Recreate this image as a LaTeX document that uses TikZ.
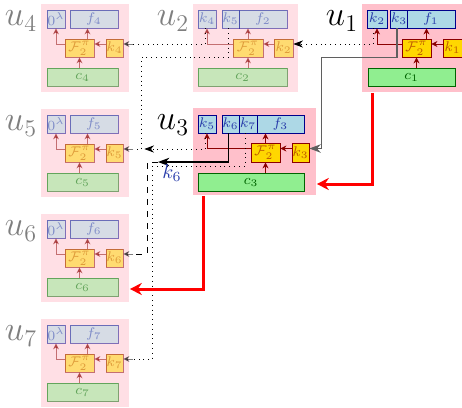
\documentclass[tikz,border=0pt]{standalone}
\usepackage{amsmath}
\usepackage{amssymb}
\usetikzlibrary{arrows.meta}

\definecolor{rosa}{RGB}{255,192,203}
\definecolor{azulclaro}{RGB}{173,216,230}
\definecolor{azuloscuro}{RGB}{0,0,139}
\definecolor{azultexto}{RGB}{40,60,170}
\definecolor{oro}{RGB}{255,215,0}
\definecolor{rojooscuro}{RGB}{139,0,0}
\definecolor{naranja}{RGB}{190,90,0}
\definecolor{verdeclaro}{RGB}{144,238,144}
\definecolor{verdeoscuro}{RGB}{0,100,0}
\definecolor{grisoscuro}{RGB}{95,95,95}

\begin{document}
\begin{tikzpicture}[>=Stealth, x=0.5pt, y=-0.5pt,
  fondo/.style={fill=rosa, inner sep=0pt, minimum height=44pt, anchor=north west},
  caja/.style={minimum height=9pt, inner sep=0pt, font=\scriptsize},
  clave/.style={caja, draw=azuloscuro, fill=azulclaro, text=azultexto},
  funcion/.style={caja, draw=rojooscuro, fill=oro, text=naranja},
  compu/.style={caja, draw=verdeoscuro, fill=verdeclaro, text=verdeoscuro},
  etiqueta/.style={font=\LARGE, inner sep=0pt},
  flecha/.style={rojooscuro, -{Stealth[length=3pt,width=3pt]}},
  entrada/.style={-{Stealth[length=3pt,width=3pt]}},
  punteado/.style={dotted, thin},
  roja/.style={red, line width=1.5pt, -{Stealth[length=6pt,width=6pt]}}]
  \useasboundingbox (0,0) rectangle (462,408);

  % Unidades inactivas u4 a u7
  \foreach \i/\oy in {4/4, 5/109, 6/214, 7/319} {
    \begin{scope}[shift={(41,\oy)}, opacity=.5]
      \node[fondo, minimum width=44pt] (fondo\i) at (0,0) {};
      \node[etiqueta] (u\i) at (-20,17) {$u_{\i}$};
      \node[clave, minimum width=9pt] (z\i) at (15,15) {$0^\lambda$};
      \node[clave, minimum width=24pt] (f\i) at (53,15) {$f_{\i}$};
      \node[funcion, minimum width=14.5pt] (F\i) at (38.5,44) {$\mathcal{F}_2^\pi$};
      \node[funcion, minimum width=8.5pt] (k\i) at (73.5,44) {$k_{\i}$};
      \node[compu, minimum width=35.5pt] (c\i) at (41.5,73) {$c_{\i}$};
      \draw[flecha] ([yshift=2pt]k\i.west) -- ([yshift=2pt]F\i.east);
      \draw[flecha] ([yshift=2pt]F\i.west) -| (z\i.south);
      \draw[flecha] ([xshift=4pt]F\i.north) -- ([xshift=4pt]F\i.north |- f\i.south);
      \draw[flecha] (c\i.north -| F\i.south) -- (F\i.south);
      \draw[entrada] ([xshift=5pt,yshift=2pt]k\i.east) -- ([yshift=2pt]k\i.east);
    \end{scope}
  }

  % Unidad u2 (inactiva)
  \begin{scope}[shift={(193,4)}, opacity=.5]
    \node[fondo, minimum width=52.5pt] (fondo2) at (0,0) {};
    \node[etiqueta] (u2) at (-20,17) {$u_2$};
    \node[clave, minimum width=9pt] (izq2) at (14,15) {$k_4$};
    \node[clave, minimum width=8.5pt] (med2) at (37.5,15) {$k_5$};
    \node[clave, minimum width=24pt] (f2) at (70,15) {$f_2$};
    \node[funcion, minimum width=15pt] (F2) at (55,44) {$\mathcal{F}_2^\pi$};
    \node[funcion, minimum width=9.5pt] (k2) at (90.5,44) {$k_2$};
    \node[compu, minimum width=44.5pt] (c2) at (49.5,73) {$c_2$};
    \draw[flecha] ([yshift=2pt]k2.west) -- ([yshift=2pt]F2.east);
    \draw[flecha] ([yshift=2pt]F2.west) -| (izq2.south);
    \draw[flecha] (F2.north) -- (F2.north |- f2.south);
    \draw[flecha] (c2.north -| F2.south) -- (F2.south);
  \end{scope}

  % Unidad u1
  \begin{scope}[shift={(362,4)}]
    \node[fondo, minimum width=52.5pt] (fondo1) at (0,0) {};
    \node[etiqueta] (u1) at (-20,17) {$u_1$};
    \node[clave, minimum width=10pt] (izq1) at (15,15) {$k_2$};
    \node[clave, minimum width=8pt] (med1) at (37,15) {$k_3$};
    \node[clave, minimum width=24pt] (f1) at (69,15) {$f_1$};
    \node[funcion, minimum width=14.5pt] (F1) at (54.5,44) {$\mathcal{F}_2^\pi$};
    \node[funcion, minimum width=9.5pt] (k1) at (90.5,44) {$k_1$};
    \node[compu, minimum width=43.5pt] (c1) at (49.5,73) {$c_1$};
    \draw[flecha] ([yshift=2pt]k1.west) -- ([yshift=2pt]F1.east);
    \draw[flecha] ([yshift=2pt]F1.west) -| (izq1.south);
    \draw[flecha] ([xshift=5pt]F1.north) -- ([xshift=5pt]F1.north |- f1.south);
    \draw[flecha] (c1.north -| F1.south) -- (F1.south);
  \end{scope}

  % Unidad u3
  \begin{scope}[shift={(193,108)}]
    \node[fondo, minimum width=61.5pt, minimum height=43.5pt] (fondo3) at (0,0) {};
    \node[etiqueta] (u3) at (-20,17) {$u_3$};
    \node[clave, minimum width=9pt] (izq3) at (14,16) {$k_5$};
    \node[clave, minimum width=8.5pt] (med3) at (37.5,16) {$k_6$};
    \node[clave, minimum width=9pt] (medb3) at (55,16) {$k_7$};
    \node[clave, minimum width=23.5pt] (f3) at (87.5,16) {$f_3$};
    \node[funcion, minimum width=14.5pt, minimum height=9.5pt] (F3) at (72.5,44.5) {$\mathcal{F}_2^\pi$};
    \node[funcion, minimum width=8.5pt, minimum height=9.5pt] (k3) at (107.5,44.5) {$k_3$};
    \node[compu, minimum width=53pt] (c3) at (58,74) {$c_3$};
    \draw[flecha] ([yshift=2pt]k3.west) -- ([yshift=2pt]F3.east);
    \draw[flecha] ([yshift=2pt]F3.west) -| (izq3.south);
    \draw[flecha] (F3.north) -- (F3.north |- f3.south);
    \draw[flecha] (c3.north -| F3.south) -- (F3.south);
  \end{scope}

  % Claves pasadas con puntos
  \draw[punteado, ->] ([xshift=-2pt]izq1.south) |- ([yshift=2pt]k2.east);
  \draw[punteado] ([xshift=-1pt]izq2.south) |- ([xshift=5pt,yshift=2pt]k4.east);
  \draw[punteado] ([xshift=-1pt]med2.south) |- ([xshift=9pt]k4.east |- F2.south)
    |- ([xshift=5pt,yshift=2pt]k5.east);
  \draw[punteado, ->] ([xshift=-1pt]izq3.south) |- ([xshift=10.5pt,yshift=2pt]k5.east);
  \draw[punteado] ([xshift=-1.5pt]medb3.south) |- ([xshift=14.5pt,yshift=-2pt]k5.east |- F3.south)
    |- ([xshift=5pt,yshift=2pt]k7.east);

  % Clave k3 de u1 a u3
  \draw[grisoscuro, semithick, ->] ([xshift=-1pt]med1.south) |- ([xshift=6pt]k3.east |- F1.south)
    |- ([yshift=2pt]k3.east);

  % Clave k6
  \coordinate (finseis) at (158,162);
  \draw[semithick, ->] ([xshift=-1pt]med3.south) |- (finseis);
  \node[text=azultexto] (etseis) at (172,173) {$k_6$};
  \draw[dashed] (finseis) -- ++(-11,0) |- ([xshift=5pt,yshift=2pt]k6.east);

  % Flechas rojas
  \draw[roja] ([xshift=5.5pt]fondo1.south west) |- ([yshift=-1pt]c3.east -| fondo3.east);
  \draw[roja] ([xshift=5.5pt]fondo3.south west) |- ([yshift=-1pt]c6.east -| fondo6.east);

\end{tikzpicture}
\end{document}
